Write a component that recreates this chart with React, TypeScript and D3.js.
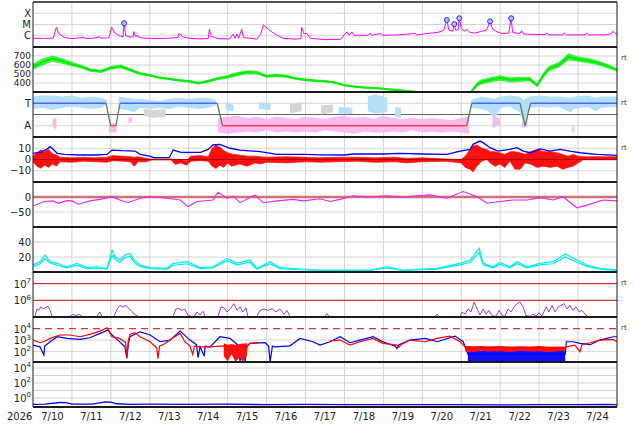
import * as React from "react";
import * as d3 from "d3";

type Pt = [number, number | null];
type Band = [number, number | null, number | null];

// all times are day offsets from 2026-07-10 00:00 UTC
const START = Date.UTC(2026, 6, 10);
const DAY = 864e5;
const dayLabels = ["7/10", "7/11", "7/12", "7/13", "7/14", "7/15", "7/16", "7/17", "7/18", "7/19", "7/20", "7/21", "7/22", "7/23", "7/24"];
const yearLabel = "2026";

// panel 1: x-ray flux (W/m2)
const xrayFlux: Pt[] = [
    [0, 6.0e-7], [0.3, 5.7e-7], [0.52, 6.3e-7], [0.6, 5.6e-6], [0.66, 1.6e-6], [0.8, 7e-7], [1.0, 5.6e-7], [1.2, 6.5e-7],
    [1.3, 7.5e-7], [1.35, 5.7e-7], [1.55, 6e-7], [1.7, 8e-7], [1.75, 6e-7], [1.95, 6.5e-7], [2.02, 5.6e-6], [2.1, 1.8e-6],
    [2.25, 9e-7], [2.31, 8e-7], [2.34, 1.3e-5], [2.38, 1e-6], [2.5, 7.5e-7], [2.57, 8e-7], [2.59, 2.3e-6], [2.63, 9e-7],
    [2.7, 1.0e-6], [2.73, 7e-7], [2.9, 6e-7], [3.2, 5.6e-7], [3.5, 6e-7], [3.72, 7e-7], [3.75, 1.65e-6], [3.85, 8e-7],
    [4.0, 6e-7], [4.3, 5.2e-7], [4.5, 5.6e-7], [4.53, 3.7e-6], [4.58, 9e-7], [4.75, 5.5e-7], [5.05, 5.2e-7], [5.14, 1.4e-6],
    [5.19, 6e-7], [5.24, 1.5e-6], [5.28, 6e-7], [5.36, 3.7e-6], [5.41, 7e-7], [5.75, 5e-7], [5.85, 1.5e-6], [5.92, 9e-6],
    [6.05, 3.6e-6], [6.2, 1.5e-6], [6.42, 6e-7], [6.75, 5e-7], [6.88, 5.6e-7], [6.9, 5.6e-6], [6.96, 1.5e-6], [7.03, 1.65e-6],
    [7.12, 6e-7], [7.5, 4.5e-7], [7.9, 4.8e-7], [8.0, 1.3e-6], [8.07, 2.2e-6], [8.12, 1.1e-6], [8.19, 2.2e-6], [8.25, 1.1e-6],
    [8.6, 1.1e-6], [8.66, 1.7e-6], [8.7, 1.1e-6], [8.94, 1.6e-6], [8.98, 1.1e-6], [9.4, 1.2e-6], [9.81, 1.6e-6], [9.85, 1.2e-6],
    [10.2, 1.7e-6], [10.4, 2.0e-6], [10.55, 3e-6], [10.63, 2.5e-5], [10.68, 3.2e-6], [10.78, 2.5e-6], [10.82, 1.1e-5], [10.86, 3e-6],
    [10.92, 3.5e-6], [10.95, 3.6e-5], [11.0, 4.5e-6], [11.08, 2.6e-6], [11.15, 3.5e-6], [11.22, 2e-6], [11.35, 1.7e-6], [11.5, 2.4e-6],
    [11.65, 3.2e-6], [11.74, 1.9e-5], [11.8, 4e-6], [11.92, 2.2e-6], [12.05, 1.6e-6], [12.22, 1.7e-6], [12.28, 3.6e-5], [12.32, 2e-6],
    [12.5, 1.5e-6], [12.55, 2.8e-6], [12.6, 1.4e-6], [12.9, 1.3e-6], [13.15, 1.3e-6], [13.2, 1.75e-6], [13.25, 1.2e-6], [13.6, 1.2e-6],
    [13.64, 1.8e-6], [13.7, 1.2e-6], [14.18, 1.2e-6], [14.22, 1.75e-6], [14.27, 1.2e-6], [14.7, 1.2e-6], [14.85, 1.5e-6], [14.9, 2.5e-6],
    [14.95, 1.6e-6], [15, 1.5e-6],
];
const flarePeaks: Pt[] = [[2.34, 1.3e-5], [10.63, 2.5e-5], [10.82, 1.1e-5], [10.95, 3.6e-5], [11.74, 1.9e-5], [12.28, 3.6e-5]];
const xrayTicks = [1e-4, 1e-5, 1e-6];
const xrayNames = ["X", "M", "C"];

// panel 2: solar wind speed [day, km/s, noise half-width]
const windSpeed: [number, number, number][] = [
    [0, 581, 35], [0.25, 635, 40], [0.5, 670, 35], [0.75, 645, 30], [1, 610, 25], [1.25, 580, 20], [1.5, 540, 18], [1.75, 530, 18],
    [2, 570, 20], [2.25, 585, 20], [2.5, 545, 18], [2.75, 505, 15], [3, 485, 12], [3.25, 460, 12], [3.5, 445, 12], [3.75, 430, 12],
    [4, 420, 14], [4.25, 398, 15], [4.5, 420, 15], [4.75, 450, 18], [5, 470, 20], [5.25, 500, 22], [5.5, 520, 22], [5.75, 515, 20],
    [6, 475, 18], [6.25, 485, 18], [6.5, 475, 18], [6.75, 450, 15], [7, 435, 15], [7.25, 425, 15], [7.5, 420, 12], [7.75, 405, 10],
    [8, 375, 10], [8.25, 360, 10], [8.5, 350, 10], [8.75, 345, 10], [9, 335, 10], [9.25, 325, 10], [9.5, 315, 10], [9.75, 305, 10],
    [10, 292, 10], [10.25, 282, 10], [10.5, 280, 10], [10.75, 285, 10], [11, 290, 10], [11.25, 300, 10], [11.4, 380, 25], [11.5, 410, 30],
    [11.75, 435, 30], [12, 455, 30], [12.25, 435, 30], [12.5, 440, 30], [12.75, 445, 25], [12.95, 375, 20], [13.1, 480, 30], [13.25, 560, 30],
    [13.5, 600, 30], [13.75, 690, 40], [14, 665, 30], [14.25, 650, 30], [14.5, 625, 25], [14.75, 590, 25], [15, 545, 20],
];
const speedTicks = [700, 600, 500, 400];

// panel 3: sector polarity (T = 1, A = -1)
const sectorLine: Pt[] = [[0, 1], [1.875, 1], [1.996, -1], [2.13, -1], [2.235, 1], [4.73, 1], [4.87, -1], [11.14, -1], [11.27, 1], [12.51, 1], [12.64, -1], [12.78, 1], [15, 1]];
const towardScatter: Band[] = [
    [0, 0.5, 1.6], [0.25, 0.6, 1.7], [0.5, 0.4, 1.7], [0.75, 0.6, 1.6], [1.0, 0.7, 1.7], [1.25, 0.6, 1.5], [1.5, 0.5, 1.6], [1.75, 0.6, 1.5],
    [1.9, 0.9, 1.3], [1.95, null, null], [2.2, 0.5, 1.6], [2.4, 0.4, 1.5], [2.6, 0.2, 1.4], [2.75, 0.6, 1.4], [3.0, 0.5, 1.3], [3.25, 0.6, 1.2],
    [3.5, 0.5, 1.4], [3.75, 0.7, 1.5], [4.0, 0.6, 1.4], [4.25, 0.5, 1.5], [4.5, 0.6, 1.5], [4.7, 0.8, 1.3], [4.75, null, null],
    [4.95, 0.4, 1.0], [5.15, 0.3, 0.9], [5.2, null, null], [5.8, 0.5, 1.1], [6.1, 0.4, 1.0], [6.15, null, null],
    [7.85, 0.1, 0.7], [8.2, 0.05, 0.6], [8.25, null, null], [8.6, 0.3, 1.6], [8.8, 0.1, 1.8], [9.1, 0.2, 1.5], [9.15, null, null],
    [9.3, -0.2, 0.7], [9.45, -0.3, 0.6], [9.5, null, null],
    [11.25, 0.6, 1.3], [11.5, 0.5, 1.6], [11.7, 0.3, 1.5], [11.85, -0.5, 1.4], [12.0, 0.6, 1.6], [12.25, 0.7, 1.7], [12.5, 0.2, 1.6],
    [12.6, -0.9, 1.3], [12.75, 0.6, 1.6], [13.0, 0.7, 1.7], [13.25, 0.6, 1.6], [13.5, 0.7, 1.6], [13.8, 0.2, 1.5], [13.9, 0.5, 1.6],
    [14.25, 0.7, 1.7], [14.45, 0.3, 1.5], [14.6, 0.6, 1.6], [15, 0.7, 1.6],
];
const awayScatter: Band[] = [
    [0.5, -1.0, -0.4], [0.6, -1.4, -0.3], [0.62, null, null],
    [1.95, -1.6, -0.7], [2.15, -1.6, -0.8], [2.18, null, null],
    [2.45, -0.8, -0.2], [2.55, -0.6, -0.3], [2.57, null, null],
    [4.75, -1.6, -0.3], [5.0, -1.7, -0.2], [5.25, -1.6, -0.1], [5.5, -1.5, -0.3], [5.75, -1.6, -0.2], [6.0, -1.4, -0.4],
    [6.25, -1.6, -0.2], [6.5, -1.5, -0.3], [6.75, -1.6, -0.4], [7.0, -1.5, -0.2], [7.25, -1.6, -0.3], [7.5, -1.4, -0.4],
    [7.75, -1.5, -0.2], [8.0, -1.6, -0.1], [8.25, -1.7, -0.3], [8.5, -1.5, -0.2], [8.75, -1.6, -0.4], [9.0, -1.6, -0.1],
    [9.25, -1.5, -0.3], [9.5, -1.6, -0.4], [9.75, -1.4, -0.3], [10.0, -1.6, -0.4], [10.25, -1.5, -0.3], [10.5, -1.6, -0.4],
    [10.75, -1.5, -0.5], [11.0, -1.6, -0.3], [11.2, -1.7, -0.2], [11.3, null, null],
    [11.8, -1.2, -0.2], [12.0, -0.9, -0.3], [12.05, null, null],
    [12.55, -1.2, -0.6], [12.7, -1.1, -0.5], [12.72, null, null],
    [13.85, -1.6, -1.1], [13.9, -1.5, -1.0], [13.92, null, null],
    [14.2, -1.4, -0.9], [14.25, null, null],
];
const mixedScatter: Band[] = [
    [2.85, -0.1, 0.5], [3.1, -0.3, 0.4], [3.4, -0.2, 0.5], [3.5, null, null],
    [6.6, 0.1, 0.9], [6.9, 0.3, 1.1], [7.0, null, null], [7.4, 0.0, 0.8], [7.7, 0.2, 0.9], [7.8, null, null],
    [12.55, -0.7, 0.3], [12.65, null, null],
];
const sectorTicks = [1, -1];
const sectorNames = ["T", "A"];

// panel 4: field strength and north-south component (nT)
const fieldTotal: Pt[] = [
    [0, 5.5], [0.2, 6.5], [0.35, 9], [0.44, 11.4], [0.55, 8], [0.62, 5.5], [0.8, 4.5], [1.2, 4], [1.6, 4], [1.9, 4.5], [2.03, 8.4],
    [2.3, 7.8], [2.62, 7.5], [2.75, 4.6], [3.0, 3], [3.1, 1.6], [3.5, 1.6], [3.6, 8.4], [3.8, 6.4], [4.3, 6.4], [4.5, 9], [4.62, 12.9],
    [4.8, 13.5], [5.06, 10], [5.32, 8.4], [5.83, 7], [6.27, 4.6], [7.0, 4.6], [7.37, 4.2], [8.0, 4], [8.22, 4.9], [9.0, 4.9], [9.4, 5.5],
    [10.0, 4.9], [10.63, 4.6], [10.97, 7.4], [11.23, 9], [11.3, 13.5], [11.48, 16.4], [11.56, 15], [11.74, 10.5], [11.94, 7.4],
    [12.25, 9], [12.43, 10.5], [12.59, 7.4], [12.77, 6], [13.02, 9.5], [13.28, 7.4], [13.54, 9], [13.79, 7.4], [14.05, 6],
    [14.48, 4.6], [15, 3.7],
];
const fieldNorthSouth: Band[] = [
    [0, -2, 3], [0.1, -6, 6], [0.2, -7.8, 8.4], [0.3, -5, 7], [0.4, -7, 9], [0.5, -4, 5], [0.6, -6, 4], [0.7, -2, 2], [1.0, -2.5, 1.5],
    [1.3, -1.5, 2], [1.6, -2, 1.5], [1.9, -2.5, 2], [2.05, -1, 3.5], [2.3, -1.5, 3], [2.5, -2, 2.5], [2.6, -6, 2], [2.7, -2, 2.5],
    [2.9, -2, 1], [3.05, -0.5, 0.5], [3.55, -0.5, 0.5], [3.65, -4.5, -0.5], [3.8, -3, -0.5], [3.95, -5, -1], [4.05, -1.5, 3],
    [4.3, -1, 3.5], [4.5, -1.5, 2.5], [4.6, -6, 10], [4.7, -8, 13], [4.8, -5, 11], [4.9, -7, 8], [5.0, -3, 6], [5.1, -6, 5],
    [5.3, -4, 4], [5.5, -6, 3], [5.7, -3, 3], [5.83, -4, 2.5], [6.0, -2.5, 2], [6.5, -3, 2.5], [7.0, -2, 2], [7.37, -2.5, 1.5],
    [7.8, -2, 2], [8.3, -1.5, 2], [8.8, -2.5, 1.5], [9.3, -2, 2], [9.6, -3, 1], [10.0, -2, 1.5], [10.6, -1.5, 0.5], [11.0, -3, 0],
    [11.1, -7, 3], [11.23, -8.7, 9], [11.3, -11, 12], [11.4, -6, 13], [11.53, -1.3, 10], [11.66, 0, 9], [11.74, -3, 7], [11.87, -6, 7],
    [11.99, -4, 6], [12.12, -7, 4.5], [12.25, -1.3, 7], [12.38, -8.7, 7], [12.51, -8.7, 6], [12.64, -3, 4.5], [12.77, -4, 7],
    [12.95, -7, 9], [13.1, -6, 7], [13.28, -7, 7], [13.46, -6, 6], [13.61, -8.7, 4.5], [13.74, -7, 3], [13.87, -6, 4.5], [14.0, -3, 3],
    [14.13, -0.3, 2.5], [14.56, -0.3, 2.5], [15, -0.3, 2.5],
];
const fieldTicks = [10, 0, -10];

// panel 5: storm index (nT)
const stormIndex: Pt[] = [
    [0, -30], [0.26, -15.6], [0.51, -13], [0.64, -21], [0.87, -12], [1.0, -13], [1.16, -24], [1.46, -13], [1.72, -8], [2.03, 1],
    [2.23, -10], [2.44, -19], [2.75, -4], [3.01, 1], [3.44, -4], [3.78, -10], [3.98, -32], [4.21, -15], [4.62, -10], [4.75, 16],
    [4.98, -4], [5.14, 3], [5.32, -19], [5.7, 7], [5.91, -19], [6.27, -13], [6.68, -8], [6.94, -13], [7.37, -6], [7.63, -15],
    [7.89, -8], [8.22, 4], [8.58, 1], [9.09, 4], [9.43, 0], [9.86, 4], [10.2, 7], [10.63, -4], [11.05, 18], [11.41, 1],
    [11.66, -21], [11.99, -15], [12.33, -10], [12.69, -10], [13.02, -2], [13.36, -10], [13.61, 1], [13.97, -36], [14.23, -27],
    [14.64, -10], [15, -13],
];
const stormTicks = [0, -50];

// panel 6: density (two traces)
const densityA: Pt[] = [
    [0, 9.3], [0.18, 13.8], [0.31, 22.7], [0.44, 13.8], [0.62, 11.6], [0.87, 7], [1.13, 11.6], [1.39, 5.8], [1.64, 7], [1.9, 4.9],
    [2.03, 29], [2.11, 20], [2.23, 16], [2.36, 22.7], [2.49, 25], [2.62, 14.7], [2.75, 9.3], [3.01, 5.8], [3.44, 4.9], [3.6, 11.6],
    [3.96, 13.8], [4.29, 5.8], [4.62, 7], [4.98, 18.2], [5.24, 11.6], [5.57, 16], [5.75, 4.9], [6.09, 13.8], [6.34, 5.8], [6.86, 4],
    [7.37, 2.7], [8.66, 2.7], [9.09, 7], [9.5, 2.7], [10.38, 4.9], [10.97, 11.6], [11.23, 16], [11.46, 31.6], [11.56, 11.6],
    [11.82, 7], [11.99, 12.7], [12.25, 7], [12.43, 13.8], [12.69, 7], [13.02, 11.6], [13.36, 13.8], [13.67, 24], [13.97, 16],
    [14.23, 9.3], [14.56, 4.9], [15, 2.7],
];
const densityB: Pt[] = [
    [0, 7], [0.18, 11], [0.31, 18], [0.44, 12], [0.62, 9], [0.87, 5.5], [1.13, 9], [1.39, 4.5], [1.64, 5.5], [1.9, 3.8], [2.03, 22],
    [2.11, 17], [2.23, 13], [2.36, 19], [2.49, 21], [2.62, 12], [2.75, 7.5], [3.01, 4.5], [3.44, 3.8], [3.6, 9], [3.96, 11], [4.29, 4.5],
    [4.62, 5.5], [4.98, 15], [5.24, 9.5], [5.57, 13], [5.75, 3.8], [6.09, 11], [6.34, 4.5], [6.86, 3], [7.37, 2], [8.66, 2], [9.09, 5.5],
    [9.5, 2], [10.38, 3.8], [10.97, 9.5], [11.23, 13], [11.46, 26], [11.56, 9.5], [11.82, 5.5], [11.99, 10], [12.25, 5.5], [12.43, 11],
    [12.69, 5.5], [13.02, 9.5], [13.36, 11], [13.67, 20], [13.97, 13], [14.23, 7.5], [14.56, 3.8], [15, 2],
];
const densityTicks = [40, 20];

// panel 7: electron flux
const electronFlux: Pt[] = [
    [0.05, 1.1e5], [0.1, 3e5], [0.15, 2.5e5], [0.2, 4e5], [0.28, 3e5], [0.33, 4e5], [0.39, 4.2e5], [0.44, 2.5e5], [0.49, 1.1e5], [0.5, null],
    [0.95, 1.1e5], [1.03, 1.45e5], [1.1, 1.2e5], [1.18, 1.45e5], [1.26, 1.1e5], [1.27, null],
    [1.64, 1.1e5], [1.72, 2e5], [1.77, 1.1e5], [1.78, null],
    [2.08, 1.1e5], [2.16, 3e5], [2.23, 5e5], [2.31, 4e5], [2.39, 5e5], [2.47, 3e5], [2.52, 2.5e5], [2.59, 1.5e5], [2.7, 1.1e5], [2.71, null],
    [3.6, 1.1e5], [3.67, 3e5], [3.75, 3.2e5], [3.83, 2.5e5], [3.9, 3e5], [3.98, 1.3e5], [4.06, 1.1e5], [4.07, null],
    [4.14, 1.1e5], [4.21, 2e5], [4.29, 1.3e5], [4.37, 2.2e5], [4.42, 1.1e5], [4.43, null],
    [4.75, 1.1e5], [4.83, 4e5], [4.91, 3.5e5], [4.98, 2e5], [5.06, 3e5], [5.16, 6.3e5], [5.24, 2.5e5], [5.32, 4e5], [5.39, 2e5],
    [5.47, 3.5e5], [5.52, 1.1e5], [5.53, null],
    [5.75, 1.1e5], [5.83, 2.5e5], [5.93, 3e5], [6.04, 2.5e5], [6.14, 3.2e5], [6.24, 2e5], [6.34, 3e5], [6.45, 1.5e5], [6.52, 2.5e5],
    [6.6, 1.1e5], [6.61, null],
    [7.5, 1.1e5], [7.55, 1.6e5], [7.6, 1.1e5], [7.61, null],
    [10.33, 1.1e5], [10.38, 1.5e5], [10.43, 1.1e5], [10.44, null],
    [10.97, 1.1e5], [11.02, 2e5], [11.1, 1.5e5], [11.17, 3e5], [11.25, 2e5], [11.33, 8e5], [11.41, 3e5], [11.48, 1.3e5], [11.56, 3e5],
    [11.64, 1.5e5], [11.71, 2.5e5], [11.79, 1.2e5], [11.89, 1.1e5], [11.97, 2.5e5], [12.05, 1.2e5], [12.12, 1.1e5], [12.2, 3e5],
    [12.28, 2e5], [12.36, 4e5], [12.43, 6.3e5], [12.51, 8e5], [12.59, 4e5], [12.66, 1.2e5], [12.77, 1.1e5], [12.84, 1.5e5],
    [12.92, 1.1e5], [13.0, 1.8e5], [13.07, 1.1e5], [13.18, 4e5], [13.25, 2e5], [13.33, 5e5], [13.41, 2e5], [13.49, 4e5], [13.56, 5e5],
    [13.64, 6.3e5], [13.72, 3e5], [13.79, 5e5], [13.87, 2.5e5], [13.95, 4e5], [14.03, 2e5], [14.1, 2.5e5], [14.18, 1.5e5], [14.23, 1.1e5],
];
const electronTicks = [1e7, 1e6];
const electronExp = ["7", "6"];

// panel 8: particle flux, blue and red channels
const fluxBlue: Pt[] = [
    [0, 370], [0.1, 300], [0.18, 260], [0.28, 50], [0.3, 300], [0.44, 720], [0.62, 1950], [0.87, 1400], [1.21, 1150], [1.46, 1600],
    [1.72, 3800], [1.93, 7400], [2.03, 2750], [2.18, 1000], [2.36, 260], [2.41, 26], [2.45, 500], [2.49, 1950], [2.75, 5200],
    [3.01, 2750], [3.26, 720], [3.52, 1000], [3.78, 6000], [4.03, 1000], [4.2, 400], [4.24, 30], [4.29, 260], [4.4, 40], [4.42, 300],
    [4.55, 260], [4.8, 1950], [5.06, 1400], [5.25, 400], [5.32, 15], [5.4, 260], [5.45, 15], [5.5, 300], [5.57, 520], [5.96, 590],
    [6.05, 300], [6.09, 13], [6.15, 300], [6.22, 260], [6.6, 320], [6.86, 1400], [7.19, 720], [7.37, 370], [7.63, 720], [7.89, 1950],
    [8.14, 590], [8.4, 1000], [8.73, 1950], [8.99, 720], [9.3, 300], [9.35, 190], [9.4, 400], [9.68, 1000], [10.07, 1400],
    [10.38, 720], [10.84, 2200], [11.05, 720], [11.17, 60], [13.67, 60], [13.7, 720], [13.87, 720], [14.05, 520], [14.31, 400],
    [14.56, 1000], [14.9, 1950], [15, 1950],
];
const fluxBlueNoise: Band[] = [
    [11.17, 13, 100], [11.3, 13, 150], [11.5, 13, 110], [11.65, 13, 160], [11.8, 13, 120], [11.95, 13, 170], [12.1, 13, 130],
    [12.25, 13, 160], [12.4, 13, 120], [12.55, 13, 150], [12.7, 13, 160], [12.85, 13, 110], [13.0, 13, 140], [13.15, 13, 120],
    [13.3, 13, 160], [13.45, 13, 120], [13.6, 13, 150], [13.67, 13, 100],
];
const fluxRed: Pt[] = [
    [0, 1000], [0.18, 590], [0.3, 800], [0.44, 1400], [0.69, 2750], [0.95, 2750], [1.21, 1950], [1.46, 3100], [1.72, 6000],
    [1.9, 11700], [2.03, 1950], [2.23, 1400], [2.38, 600], [2.41, 30], [2.45, 900], [2.49, 3100], [2.62, 4400], [2.75, 1950],
    [3.01, 720], [3.18, 200], [3.21, 25], [3.25, 300], [3.39, 500], [3.57, 1400], [3.78, 3800], [3.9, 720], [4.03, 320], [4.1, 60],
    [4.15, 300], [4.29, 260], [4.55, 260], [4.8, 300], [5.5, 300], [5.57, 520], [5.75, 590], [5.83, 590], [5.84, null],
    [7.63, 870], [7.89, 1000], [8.14, 370], [8.4, 720], [8.73, 1400], [8.99, 520], [9.35, 370], [9.4, 250], [9.45, 400], [9.68, 1000],
    [10.07, 720], [10.38, 1400], [10.71, 2200], [10.97, 720], [11.1, 260], [13.67, 200], [13.7, 260], [13.92, 370], [14.05, 100],
    [14.1, 400], [14.31, 590], [14.56, 1000], [14.9, 1150], [15, 720],
];
const fluxRedNoise: Band[] = [
    [4.9, 40, 520], [5.0, 15, 400], [5.1, 60, 450], [5.2, 13, 380], [5.3, 30, 450], [5.4, 13, 500], [5.5, 50, 520], [5.51, null, null],
    [11.1, 110, 300], [11.3, 90, 280], [11.5, 120, 300], [11.7, 100, 260], [12, 110, 300], [12.25, 90, 270], [12.5, 120, 290],
    [12.75, 100, 280], [13, 110, 300], [13.25, 90, 270], [13.5, 110, 280], [13.67, 120, 260],
];
const fluxThreshold = 1e4;
const fluxTicks = [1e4, 1e3, 1e2];
const fluxExp = ["4", "3", "2"];

// panel 9: high-energy flux
const highEnergy: Pt[] = [
    [0, 0.14], [0.3, 0.15], [0.7, 0.25], [0.85, 0.24], [1.0, 0.15], [1.5, 0.15], [1.72, 0.22], [1.85, 0.3], [2.0, 0.28], [2.15, 0.17],
    [2.5, 0.14], [3, 0.15], [4, 0.14], [5, 0.15], [6, 0.13], [7, 0.14], [8, 0.13], [9, 0.13], [10, 0.13], [11, 0.13], [12, 0.12],
    [13, 0.13], [14, 0.13], [14.7, 0.14], [15, 0.13],
];
const highTicks = [1e4, 1e2, 1e0];
const highExp = ["4", "2", "0"];
const highGrid = [1e4, 1e3, 1e2, 1e1, 1e0];

const rtPanels = [1, 2, 3, 6, 7];

// layout
const W = 634, H = 424;
const L = 33, R = 617, TOP = 2, PH = 45;
const ptop = (i: number) => TOP + i * PH;
const pbot = (i: number) => TOP + (i + 1) * PH;

const x = d3.scaleUtc().domain([new Date(START), new Date(START + 15 * DAY)]).range([L, R]);
const tx = (d: number) => x(new Date(START + d * DAY));

const yXray = d3.scaleLog().domain([1e-7, 1e-3]).range([pbot(0), ptop(0)]);
const ySpeed = d3.scaleLinear().domain([300, 800]).range([pbot(1), ptop(1)]);
const ySector = d3.scaleLinear().domain([-2, 2]).range([pbot(2), ptop(2)]);
const yField = d3.scaleLinear().domain([-20, 20]).range([pbot(3), ptop(3)]);
const yStorm = d3.scaleLinear().domain([-100, 50]).range([pbot(4), ptop(4)]);
const yDensity = d3.scaleLinear().domain([0, 60]).range([pbot(5), ptop(5)]);
const yElectron = d3.scaleLog().domain([1e5, 5e7]).range([pbot(6), ptop(6)]);
const yFlux = d3.scaleLog().domain([12.6, 1e5]).range([pbot(7), ptop(7)]);
const yHigh = d3.scaleLog().domain([0.063, 63000]).range([pbot(8), ptop(8)]);

const linePath = (data: Pt[], y: (v: number) => number) =>
    d3.line<Pt>().defined(d => d[1] != null).x(d => tx(d[0])).y(d => y(d[1] as number))(data) || "";

const bandPath = (data: Band[], y: (v: number) => number) =>
    d3.area<Band>().defined(d => d[1] != null && d[2] != null)
        .x(d => tx(d[0])).y0(d => y(d[1] as number)).y1(d => y(d[2] as number))(data) || "";

const FONT = "'DejaVu Sans', Verdana, sans-serif";
const GRID = "#d4d4d4";

const HLine = ({ y, stroke = GRID, width = 1, dash }: { y: number, stroke?: string, width?: number, dash?: string }) =>
    <line x1={L} x2={R} y1={y} y2={y} stroke={stroke} strokeWidth={width} strokeDasharray={dash} />;

const Label = ({ y, text, size = 10 }: { y: number, text: string, size?: number }) =>
    <text x={31} y={y + size * 0.36} textAnchor="end" fontSize={size} fill="#222">{text}</text>;

const PowLabel = ({ y, exp }: { y: number, exp: string }) =>
    <text x={31} y={y + 4} textAnchor="end" fontSize={10} fill="#222">10<tspan dy={-4.5} fontSize={7}>{exp}</tspan></text>;

export default function App() {
    const panels = d3.range(9);
    const midnights = d3.range(1, 15);

    const sectorSegments = sectorLine.slice(1).map((p, i) => {
        const a = sectorLine[i];
        const color = a[1] === 1 && p[1] === 1 ? "#5563ee" : a[1] === -1 && p[1] === -1 ? "#ee4444" : "#5f7f5f";
        return <line key={i} x1={tx(a[0])} y1={ySector(a[1] as number)} x2={tx(p[0])} y2={ySector(p[1] as number)} stroke={color} strokeWidth={1.3} />;
    });

    return (
        <div style={{ position: "absolute", left: 0, top: 0 }}>
            <svg width={W} height={H} style={{ display: "block", background: "#fff" }} fontFamily={FONT}>
                <defs>
                    {panels.map(i => (
                        <clipPath id={`clip${i}`} key={i}>
                            <rect x={L} y={ptop(i)} width={R - L} height={PH} />
                        </clipPath>
                    ))}
                </defs>

                {/* day grid */}
                {midnights.map(d => <line key={d} x1={tx(d)} x2={tx(d)} y1={TOP} y2={pbot(8)} stroke={GRID} />)}

                {/* horizontal grids */}
                {xrayTicks.map(v => <HLine key={"xg" + v} y={yXray(v)} />)}
                {speedTicks.map(v => <HLine key={"sg" + v} y={ySpeed(v)} />)}
                {sectorTicks.map(v => <HLine key={"tg" + v} y={ySector(v)} />)}
                <HLine y={ySector(0)} stroke="#666" />
                {fieldTicks.filter(v => v !== 0).map(v => <HLine key={"fg" + v} y={yField(v)} />)}
                <HLine y={yStorm(-50)} />
                {densityTicks.map(v => <HLine key={"dg" + v} y={yDensity(v)} />)}
                {fluxTicks.slice(1).map(v => <HLine key={"pg" + v} y={yFlux(v)} />)}
                {highGrid.map(v => <HLine key={"hg" + v} y={yHigh(v)} />)}

                {/* panel 1 */}
                <g clipPath="url(#clip0)">
                    <path d={linePath(xrayFlux, yXray)} fill="none" stroke="#ff00ff" strokeWidth={1} />
                    {flarePeaks.map((p, i) => (
                        <circle key={i} cx={tx(p[0])} cy={yXray(p[1] as number)} r={2.5} fill="#c4b4ff" stroke="#2233ff" strokeWidth={1} />
                    ))}
                </g>

                {/* panel 2 */}
                <g clipPath="url(#clip1)">
                    <path d={d3.area<[number, number, number]>().x(d => tx(d[0])).y0(d => ySpeed(d[1] - d[2])).y1(d => ySpeed(d[1] + d[2]))(windSpeed) || ""}
                        fill="#1eea1e" opacity={0.8} />
                    <path d={d3.line<[number, number, number]>().x(d => tx(d[0])).y(d => ySpeed(d[1]))(windSpeed) || ""}
                        fill="none" stroke="#00ee00" strokeWidth={2} />
                </g>

                {/* panel 3 */}
                <g clipPath="url(#clip2)">
                    <path d={bandPath(mixedScatter, ySector)} fill="#d6d6d6" />
                    <path d={bandPath(towardScatter, ySector)} fill="#b2e0fa" />
                    <path d={bandPath(awayScatter, ySector)} fill="#f8baf0" />
                    {sectorSegments}
                </g>

                {/* panel 4 */}
                <g clipPath="url(#clip3)">
                    <path d={bandPath(fieldNorthSouth, yField)} fill="#ff1010" stroke="#ff0000" strokeWidth={0.6} />
                    <HLine y={yField(0)} stroke="#b00000" />
                    <path d={linePath(fieldTotal, yField)} fill="none" stroke="#0000ff" strokeWidth={1.3} />
                </g>

                {/* panel 5 */}
                <g clipPath="url(#clip4)">
                    <HLine y={yStorm(0)} stroke="#d07070" width={2.5} />
                    <path d={linePath(stormIndex, yStorm)} fill="none" stroke="#f020f0" strokeWidth={1.1} />
                </g>

                {/* panel 6 */}
                <g clipPath="url(#clip5)">
                    <path d={linePath(densityB, yDensity)} fill="none" stroke="#00e8e8" strokeWidth={1.2} />
                    <path d={linePath(densityA, yDensity)} fill="none" stroke="#00eeee" strokeWidth={1.2} />
                </g>

                {/* panel 7 */}
                <g clipPath="url(#clip6)">
                    {electronTicks.map(v => <HLine key={"er" + v} y={yElectron(v)} stroke="#cc0000" />)}
                    <path d={linePath(electronFlux, yElectron)} fill="none" stroke="#a33ad6" strokeWidth={1} />
                </g>

                {/* panel 8 */}
                <g clipPath="url(#clip7)">
                    <HLine y={yFlux(fluxThreshold)} stroke="#e03030" width={1.3} dash="7,5" />
                    <path d={bandPath(fluxBlueNoise, yFlux)} fill="#1010ff" />
                    <path d={linePath(fluxBlue, yFlux)} fill="none" stroke="#0000ff" strokeWidth={1.2} />
                    <path d={bandPath(fluxRedNoise, yFlux)} fill="#ff1010" />
                    <path d={linePath(fluxRed, yFlux)} fill="none" stroke="#ff0000" strokeWidth={1.2} />
                </g>

                {/* panel 9 */}
                <g clipPath="url(#clip8)">
                    <path d={linePath(highEnergy, yHigh)} fill="none" stroke="#0000ff" strokeWidth={1.3} />
                </g>

                {/* frames */}
                {d3.range(10).map(i => (
                    <line key={"sep" + i} x1={L} x2={R} y1={ptop(i)} y2={ptop(i)} stroke="#1a1a1a" strokeWidth={i === 0 ? 1.5 : 2} />
                ))}
                <line x1={L} x2={L} y1={TOP} y2={pbot(8)} stroke="#1a1a1a" strokeWidth={1} />
                <line x1={R} x2={R} y1={TOP} y2={pbot(8)} stroke="#1a1a1a" strokeWidth={1} />

                {/* y labels */}
                {xrayTicks.map((v, i) => <Label key={"xl" + v} y={yXray(v)} text={xrayNames[i]} />)}
                {speedTicks.map(v => <Label key={"sl" + v} y={ySpeed(v)} text={String(v)} size={9} />)}
                {sectorTicks.map((v, i) => <Label key={"tl" + v} y={ySector(v)} text={sectorNames[i]} />)}
                {fieldTicks.map(v => <Label key={"fl" + v} y={yField(v)} text={d3.format("d")(v).replace("-", "\u2212")} />)}
                {stormTicks.map(v => <Label key={"dl" + v} y={yStorm(v)} text={d3.format("d")(v).replace("-", "\u2212")} />)}
                {densityTicks.map(v => <Label key={"nl" + v} y={yDensity(v)} text={String(v)} />)}
                {electronTicks.map((v, i) => <PowLabel key={"el" + v} y={yElectron(v)} exp={electronExp[i]} />)}
                {fluxTicks.map((v, i) => <PowLabel key={"pl" + v} y={yFlux(v)} exp={fluxExp[i]} />)}
                {highTicks.map((v, i) => <PowLabel key={"hl" + v} y={yHigh(v)} exp={highExp[i]} />)}

                {rtPanels.map(i => (
                    <text key={"rt" + i} x={621} y={ptop(i) + 12.5} fontSize={7} fill="#333">rt</text>
                ))}

                {/* x labels at noon */}
                {dayLabels.map((s, i) => (
                    <text key={s} x={tx(i + 0.5)} y={420} textAnchor="middle" fontSize={10} fill="#222">{s}</text>
                ))}
                <text x={7} y={420} fontSize={10} fill="#222">{yearLabel}</text>
            </svg>
        </div>
    );
}
